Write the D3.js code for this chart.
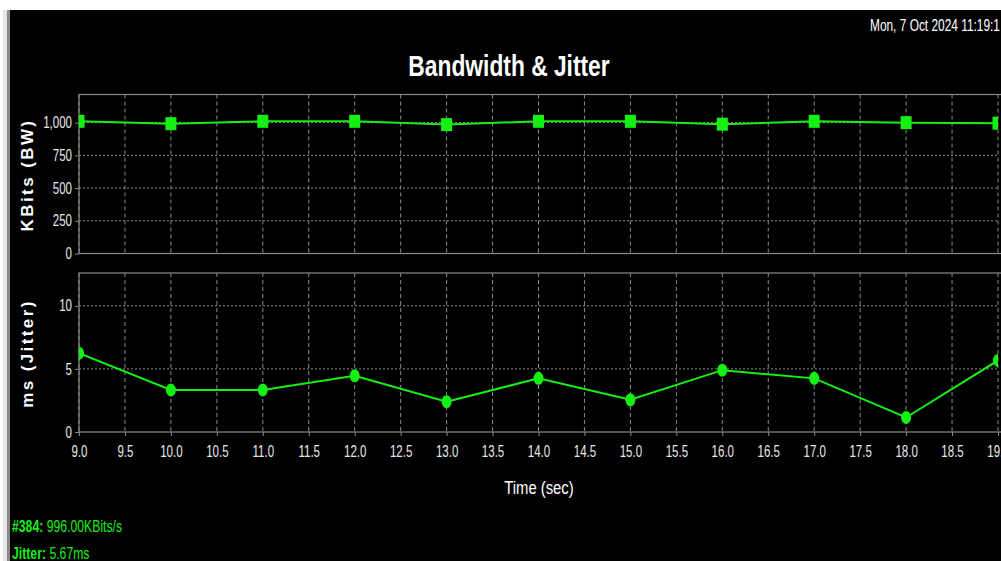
<!DOCTYPE html>
<html>
<head>
<meta charset="utf-8">
<script src="https://cdn.jsdelivr.net/npm/d3@7"></script>
<style>
    body { margin: 0; background: #fff; overflow: hidden; }
</style>
</head>
<body>
<div id="chart"></div>
<script>

// data
let times = [9, 10, 11, 12, 13, 14, 15, 16, 17, 18, 19];
let bandwidth = [1010, 992, 1010, 1010, 985, 1010, 1010, 988, 1010, 1000, 996];
let jitter = [6.25, 3.33, 3.33, 4.45, 2.4, 4.25, 2.55, 4.9, 4.25, 1.15, 5.67];
let xTicks = d3.range(9, 19.01, 0.5);
let bwTicks = [0, 250, 500, 750, 1000];
let jitterTicks = [0, 5, 10];

let width = 1001, height = 561;
let green = "#14f014";
let gridColor = "#8a8a8a";
let font = '"Liberation Sans", Arial, sans-serif';
let squeeze = 0.72; // the original uses a narrow face, squash a normal one

let svg = d3.select("#chart").append("svg")
    .attr("width", width)
    .attr("height", height);

// draws narrow-looking text by squashing it horizontally
function narrowText(parent, x, y, str, size, sx, anchor, weight, color) {
    let t = parent.append("g")
        .attr("transform", `translate(${x},${y}) scale(${sx},1)`)
        .append("text")
        .attr("text-anchor", anchor || "start")
        .attr("fill", color || "#fff")
        .style("font-family", font)
        .style("font-size", size + "px")
        .style("font-weight", weight || "normal");
    if (str) t.text(str);
    return t;
}

// background + left frame strip
svg.append("rect").attr("x", 0).attr("y", 0).attr("width", width).attr("height", height).attr("fill", "#fff");
svg.append("rect").attr("x", 3).attr("y", 10).attr("width", 4).attr("height", height).attr("fill", "#e6e6e6");
svg.append("rect").attr("x", 7).attr("y", 10).attr("width", 3).attr("height", height).attr("fill", "#8c8c8c");
svg.append("rect").attr("x", 10).attr("y", 10).attr("width", width).attr("height", height).attr("fill", "#000");

let left = 79, right = 998;
let x = d3.scaleLinear().domain([9, 19]).range([left, right]);

// two stacked plots
let plots = [
    {top: 94.5, bottom: 253.5, domain: [0, 1215], ticks: bwTicks, fmt: d3.format(","), values: bandwidth, label: "KBits (BW)", shape: "square", id: "bw"},
    {top: 273, bottom: 432, domain: [0, 12.6], ticks: jitterTicks, fmt: d3.format("d"), values: jitter, label: "ms (Jitter)", shape: "ellipse", id: "jit"}
];

plots.forEach(p => {
    let y = d3.scaleLinear().domain(p.domain).range([p.bottom, p.top]);
    let g = svg.append("g");

    // clip to plot area
    svg.append("clipPath").attr("id", "clip-" + p.id)
        .append("rect")
        .attr("x", left).attr("y", p.top)
        .attr("width", right - left).attr("height", p.bottom - p.top);

    // vertical grid
    g.selectAll(".vgrid").data(xTicks).enter().append("line")
        .attr("x1", d => x(d)).attr("x2", d => x(d))
        .attr("y1", p.top).attr("y2", p.bottom)
        .attr("stroke", gridColor).attr("stroke-width", 1)
        .attr("stroke-dasharray", "4,3");

    // horizontal grid
    g.selectAll(".hgrid").data(p.ticks.filter(d => d > 0)).enter().append("line")
        .attr("x1", left).attr("x2", right)
        .attr("y1", d => y(d)).attr("y2", d => y(d))
        .attr("stroke", gridColor).attr("stroke-width", 1)
        .attr("stroke-dasharray", "2,2");

    // border
    g.append("rect")
        .attr("x", left).attr("y", p.top)
        .attr("width", right - left + 4).attr("height", p.bottom - p.top)
        .attr("fill", "none").attr("stroke", gridColor).attr("stroke-width", 1.2);

    // y axis
    let yAxis = d3.axisLeft(y).tickValues(p.ticks).tickFormat(p.fmt).tickSize(4).tickPadding(3);
    let ya = svg.append("g").attr("transform", `translate(${left},0)`).call(yAxis);
    ya.select(".domain").remove();
    ya.selectAll("line").attr("stroke", gridColor);
    ya.selectAll("text")
        .attr("fill", "#e8e8e8")
        .attr("x", -7 / squeeze)
        .attr("transform", `scale(${squeeze},1)`)
        .style("font-family", font).style("font-size", "16px");

    // y label
    svg.append("text")
        .attr("transform", `translate(33, ${(p.top + p.bottom) / 2 + 1}) rotate(-90)`)
        .attr("text-anchor", "middle")
        .attr("fill", "#fff")
        .style("font-family", font)
        .style("font-size", "17px")
        .style("font-weight", "bold")
        .style("letter-spacing", "2.4px")
        .text(p.label);

    // series
    let series = svg.append("g").attr("clip-path", `url(#clip-${p.id})`);
    let line = d3.line().x((d, i) => x(times[i])).y(d => y(d));
    series.append("path")
        .datum(p.values)
        .attr("d", line)
        .attr("fill", "none")
        .attr("stroke", green)
        .attr("stroke-width", 2);

    if (p.shape === "square") {
        series.selectAll(".pt").data(p.values).enter().append("rect")
            .attr("x", (d, i) => x(times[i]) - 5.5)
            .attr("y", d => y(d) - 6.5)
            .attr("width", 11).attr("height", 13)
            .attr("fill", green);
    } else {
        series.selectAll(".pt").data(p.values).enter().append("ellipse")
            .attr("cx", (d, i) => x(times[i]))
            .attr("cy", d => y(d))
            .attr("rx", 5).attr("ry", 6.5)
            .attr("fill", green);
    }
});

// x axis under the jitter plot
let xAxis = d3.axisBottom(x).tickValues(xTicks).tickFormat(d3.format(".1f")).tickSize(4).tickPadding(10);
let xa = svg.append("g").attr("transform", "translate(0,432)").call(xAxis);
xa.select(".domain").remove();
xa.selectAll("line").attr("stroke", gridColor);
xa.selectAll("text")
    .attr("fill", "#e8e8e8")
    .attr("transform", `scale(${squeeze},1)`)
    .style("font-family", font).style("font-size", "16px");

// titles
narrowText(svg, 509, 76, "Bandwidth & Jitter", 30, 0.76, "middle", "bold");
narrowText(svg, 870, 31, "Mon, 7 Oct 2024 11:19:1", 17, 0.7, "start");
narrowText(svg, 539, 494, "Time (sec)", 19, 0.78, "middle");

// status lines at the bottom
let status1 = narrowText(svg, 12, 532, null, 17, 0.72, "start", "normal", green);
status1.append("tspan").style("font-weight", "bold").text("#384: ");
status1.append("tspan").text("996.00KBits/s");

let status2 = narrowText(svg, 12, 559, null, 17, 0.72, "start", "normal", green);
status2.append("tspan").style("font-weight", "bold").text("Jitter: ");
status2.append("tspan").text("5.67ms");

</script>
</body>
</html>
